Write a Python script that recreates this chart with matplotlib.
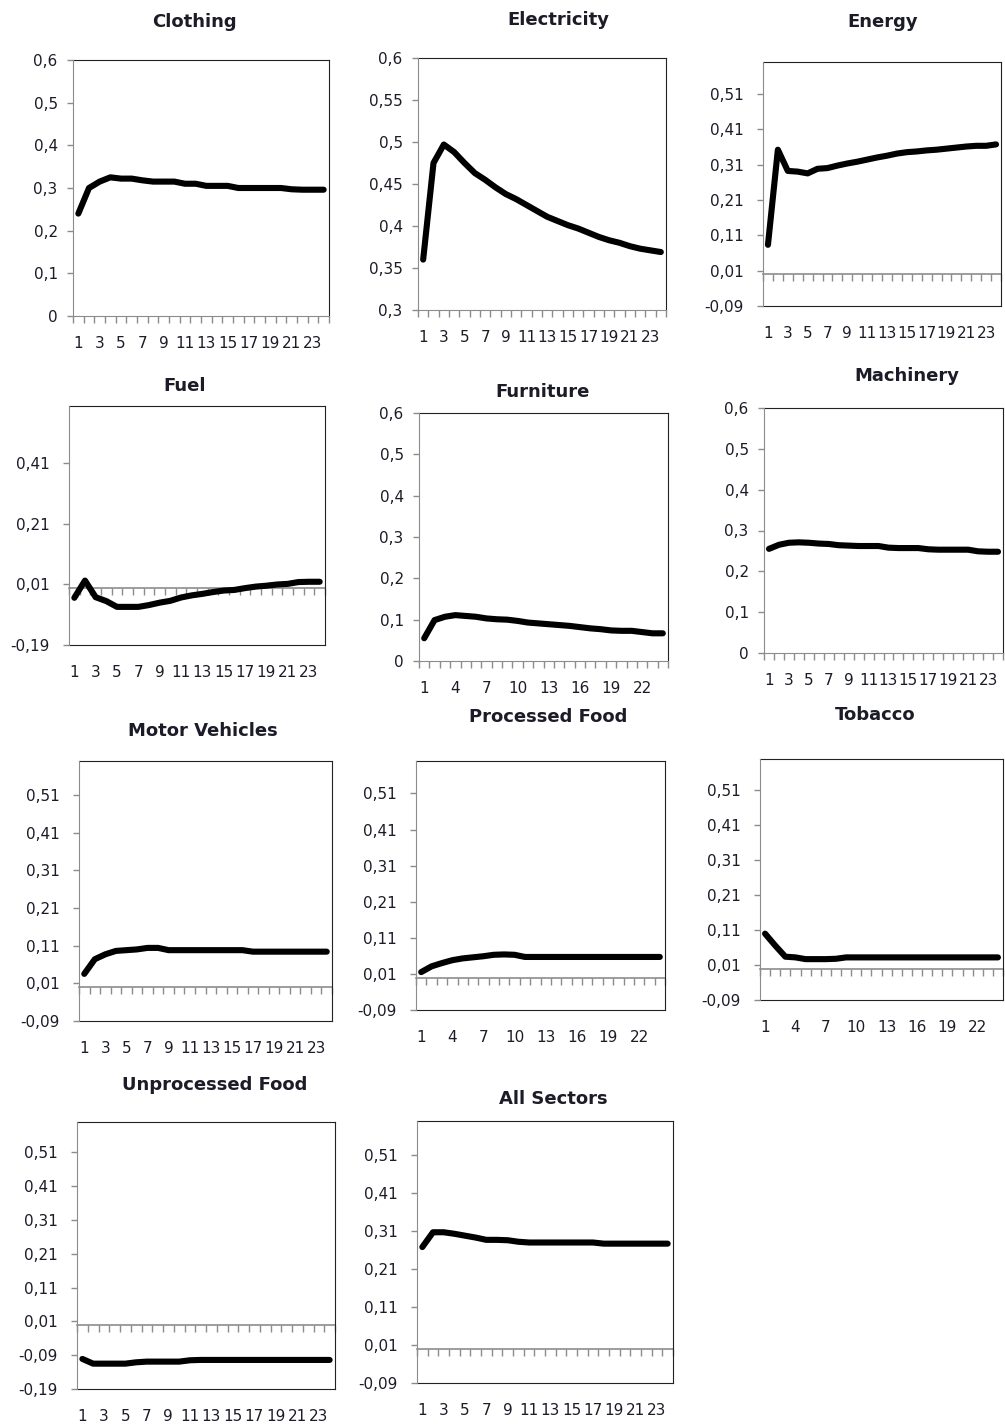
import matplotlib.pyplot as plt
import numpy as np

plt.rcParams['font.family'] = ['DejaVu Sans']

W, H = 1005, 1425
GRAY = '#8c8c8c'
INK = '#1c1c28'

periods = np.arange(1, 25)

clothing = [0.240, 0.300, 0.315, 0.325, 0.322, 0.322, 0.318, 0.315, 0.315, 0.315, 0.310, 0.310,
            0.305, 0.305, 0.305, 0.300, 0.300, 0.300, 0.300, 0.300, 0.297, 0.296, 0.296, 0.296]
electricity = [0.360, 0.475, 0.497, 0.488, 0.475, 0.463, 0.455, 0.446, 0.438, 0.432, 0.425, 0.418,
               0.411, 0.406, 0.401, 0.397, 0.392, 0.387, 0.383, 0.380, 0.376, 0.373, 0.371, 0.369]
energy = [0.083, 0.352, 0.292, 0.290, 0.285, 0.298, 0.300, 0.307, 0.313, 0.318, 0.324, 0.330,
          0.335, 0.341, 0.345, 0.347, 0.350, 0.352, 0.355, 0.358, 0.361, 0.363, 0.363, 0.367]
fuel = [-0.034, 0.023, -0.032, -0.045, -0.064, -0.064, -0.064, -0.058, -0.050, -0.044, -0.033, -0.026,
        -0.021, -0.015, -0.010, -0.008, -0.002, 0.003, 0.006, 0.010, 0.012, 0.018, 0.019, 0.019]
furniture = [0.055, 0.099, 0.107, 0.111, 0.109, 0.107, 0.103, 0.101, 0.100, 0.097, 0.093, 0.091,
             0.089, 0.087, 0.085, 0.082, 0.079, 0.077, 0.074, 0.073, 0.073, 0.070, 0.067, 0.067]
machinery = [0.255, 0.265, 0.270, 0.271, 0.270, 0.268, 0.267, 0.264, 0.263, 0.262, 0.262, 0.262,
             0.258, 0.257, 0.257, 0.257, 0.254, 0.253, 0.253, 0.253, 0.253, 0.249, 0.248, 0.248]
motor_vehicles = [0.035, 0.074, 0.087, 0.096, 0.098, 0.100, 0.104, 0.104, 0.098, 0.098, 0.098, 0.098,
                  0.098, 0.098, 0.098, 0.098, 0.094, 0.094, 0.094, 0.094, 0.094, 0.094, 0.094, 0.094]
processed_food = [0.015, 0.031, 0.040, 0.048, 0.053, 0.056, 0.059, 0.063, 0.064, 0.063, 0.057, 0.057,
                  0.057, 0.057, 0.057, 0.057, 0.057, 0.057, 0.057, 0.057, 0.057, 0.057, 0.057, 0.057]
tobacco = [0.100, 0.066, 0.034, 0.032, 0.027, 0.027, 0.027, 0.028, 0.032, 0.032, 0.032, 0.032,
           0.032, 0.032, 0.032, 0.032, 0.032, 0.032, 0.032, 0.032, 0.032, 0.032, 0.032, 0.032]
unprocessed_food = [-0.101, -0.115, -0.115, -0.115, -0.115, -0.111, -0.109, -0.109, -0.109, -0.109, -0.105, -0.104,
                    -0.104, -0.104, -0.104, -0.104, -0.104, -0.104, -0.104, -0.104, -0.104, -0.104, -0.104, -0.104]
all_sectors = [0.268, 0.307, 0.307, 0.303, 0.298, 0.293, 0.287, 0.287, 0.286, 0.282, 0.280, 0.280,
               0.280, 0.280, 0.280, 0.280, 0.280, 0.277, 0.277, 0.277, 0.277, 0.277, 0.277, 0.277]

ticks_pos = np.round(np.arange(0, 0.61, 0.1), 2)
ticks_elec = np.round(np.arange(0.3, 0.61, 0.05), 2)
ticks_neg09 = np.round(np.arange(-0.09, 0.52, 0.1), 2)
ticks_fuel = np.round(np.arange(-0.19, 0.42, 0.2), 2)
ticks_neg19 = np.round(np.arange(-0.19, 0.52, 0.1), 2)

# title, series, y range, y ticks, x label step, box (l, t, r, b px), title centre (px)
panels = [
    ('Clothing', clothing, (0, 0.6), ticks_pos, 2, (73, 60, 329, 316), (194, 22)),
    ('Electricity', electricity, (0.3, 0.6), ticks_elec, 2, (418, 58, 666, 310), (558, 20)),
    ('Energy', energy, (-0.09, 0.6), ticks_neg09, 2, (763, 62, 1001, 306), (883, 22)),
    ('Fuel', fuel, (-0.19, 0.6), ticks_fuel, 2, (69, 406, 325, 645), (185, 386)),
    ('Furniture', furniture, (0, 0.6), ticks_pos, 3, (419, 413, 668, 661), (543, 392)),
    ('Machinery', machinery, (0, 0.6), ticks_pos, 2, (764, 408, 1003, 653), (907, 376)),
    ('Motor Vehicles', motor_vehicles, (-0.09, 0.6), ticks_neg09, 2, (79, 761, 332, 1021), (203, 731)),
    ('Processed Food', processed_food, (-0.09, 0.6), ticks_neg09, 3, (416, 761, 665, 1010), (548, 717)),
    ('Tobacco', tobacco, (-0.09, 0.6), ticks_neg09, 3, (760, 759, 1003, 1000), (875, 715)),
    ('Unprocessed Food', unprocessed_food, (-0.19, 0.6), ticks_neg19, 2, (77, 1122, 335, 1389), (215, 1085)),
    ('All Sectors', all_sectors, (-0.09, 0.6), ticks_neg09, 2, (417, 1121, 673, 1383), (553, 1099)),
]


def fmt(v):
    return f'{v:g}'.replace('.', ',')


fig = plt.figure(figsize=(W / 100, H / 100), dpi=100)

boundaries = np.arange(0.5, 25, 1.0)

for title, series, (ylo, yhi), yticks, step, (l, t, r, b), (tx, ty) in panels:
    ax = fig.add_axes([l / W, 1 - b / H, (r - l) / W, (b - t) / H])
    ax.plot(periods, series, color='black', lw=4.4, solid_joinstyle='round', solid_capstyle='round')
    ax.set_xlim(0.5, 24.5)
    ax.set_ylim(ylo, yhi)

    # value labels sit further out when the axis has negative values
    ax.set_yticks(yticks)
    ax.set_yticklabels([fmt(v) for v in yticks])
    ax.tick_params(axis='y', direction='out', length=4, width=1, color=GRAY,
                   labelsize=11, labelcolor=INK, pad=10 if ylo < 0 else 7)

    labels = periods[::step]
    ax.set_xticks(labels)
    ax.set_xticklabels([str(p) for p in labels])
    ax.tick_params(axis='x', length=0, labelsize=11, labelcolor=INK, pad=14.5)

    for side in ('top', 'right'):
        ax.spines[side].set_color('#222222')
    ax.spines['left'].set_color(GRAY)
    ax.spines['left'].set_zorder(3)

    if ylo < 0:
        # the category axis crosses at zero; labels stay at the bottom of the box
        ax.spines['bottom'].set_color('#222222')
        zero_axis = ax.secondary_xaxis(0, transform=ax.transData)
        zero_axis.set_xticks(boundaries)
        zero_axis.set_xticklabels([])
        zero_axis.tick_params(direction='out', length=5, width=1, color=GRAY)
        zero_axis.spines['bottom'].set_color(GRAY)
        zero_axis.spines['bottom'].set_linewidth(1.2)
    else:
        ax.spines['bottom'].set_color(GRAY)
        ax.set_xticks(boundaries, minor=True)
        ax.tick_params(axis='x', which='minor', direction='out', length=5, width=1, color=GRAY)

    fig.text(tx / W, 1 - ty / H, title, ha='center', va='center',
             fontsize=13, fontweight='bold', color=INK)

fig.savefig('out.png', dpi=100)
